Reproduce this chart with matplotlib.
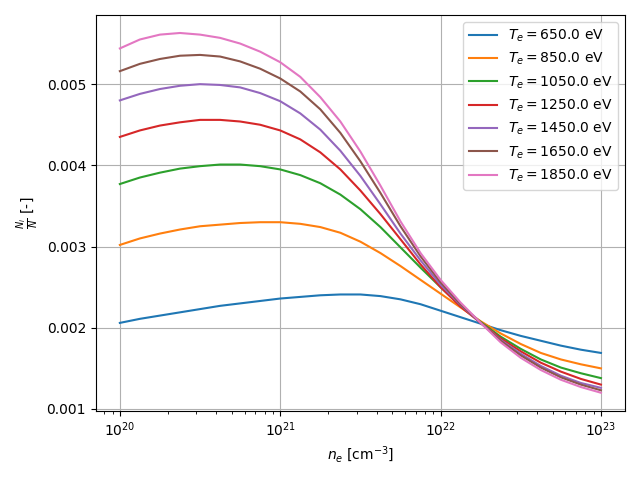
import numpy as np
import matplotlib
matplotlib.use("Agg")
import matplotlib.pyplot as plt

# log10 of electron density [cm^-3], 1/8 decade steps
log_ne = [20.0, 20.125, 20.25, 20.375, 20.5, 20.625, 20.75, 20.875,
          21.0, 21.125, 21.25, 21.375, 21.5, 21.625, 21.75, 21.875,
          22.0, 22.125, 22.25, 22.375, 22.5, 22.625, 22.75, 22.875, 23.0]

temps = [650.0, 850.0, 1050.0, 1250.0, 1450.0, 1650.0, 1850.0]

# ion fraction N_i/N (in units of 1e-5)
frac_650 = [206, 211, 215, 219, 223, 227, 230, 233, 236, 238, 240, 241, 241,
            239, 235, 229, 221, 213, 205, 197, 190, 184, 178, 173, 169]
frac_850 = [302, 310, 316, 321, 325, 327, 329, 330, 330, 328, 324, 317, 306,
            292, 276, 259, 242, 225, 208, 193, 180, 169, 161, 155, 150]
frac_1050 = [377, 385, 391, 396, 399, 401, 401, 399, 395, 388, 378, 364, 346,
             324, 299, 274, 250, 227, 207, 189, 174, 161, 151, 144, 138]
frac_1250 = [435, 443, 449, 453, 456, 456, 454, 450, 443, 432, 416, 395, 369,
             340, 309, 278, 250, 226, 206, 187, 171, 157, 146, 137, 130]
frac_1450 = [480, 488, 494, 498, 500, 499, 496, 489, 479, 464, 444, 418, 387,
             352, 316, 283, 253, 228, 206, 185, 168, 153, 141, 132, 126]
frac_1650 = [516, 525, 531, 535, 536, 534, 528, 519, 507, 491, 469, 440, 405,
             366, 325, 288, 256, 229, 206, 184, 166, 151, 139, 130, 123]
frac_1850 = [544, 555, 561, 563, 561, 557, 550, 540, 527, 509, 484, 454, 417,
             375, 331, 292, 259, 231, 206, 182, 163, 148, 136, 127, 120]

fractions = [frac_650, frac_850, frac_1050, frac_1250, frac_1450, frac_1650, frac_1850]

ne = 10.0 ** np.array(log_ne)

fig, ax = plt.subplots(figsize=(6.4, 4.8), dpi=100)
for T, frac in zip(temps, fractions):
    ax.plot(ne, np.array(frac) * 1e-5, label=f"$T_e = {T}$ eV")

ax.set_xscale("log")
ax.set_xlabel(r"$n_e$ [cm$^{-3}$]")
ax.set_ylabel(r"$\frac{N_i}{N}$ [-]")
ax.grid(True)
ax.legend(loc="upper right")

plt.tight_layout()
plt.savefig("out.png")
